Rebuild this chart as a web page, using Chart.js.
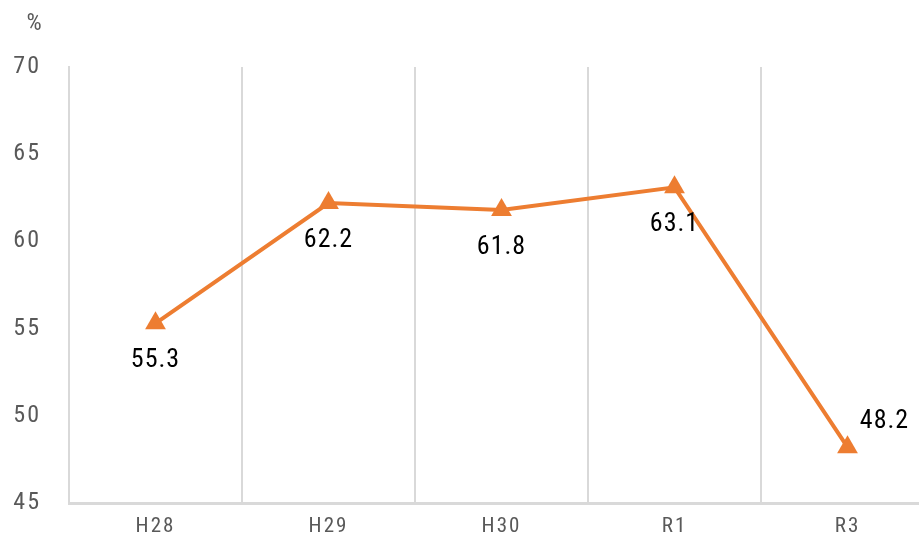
<!DOCTYPE html>
<html>
<head>
<meta charset="utf-8">
<script src="https://cdn.jsdelivr.net/npm/chart.js@4.4.0/dist/chart.umd.min.js"></script>
<style>
  html, body { margin: 0; padding: 0; background: #fff; overflow: hidden; }
  #myChart { display: block; }
</style>
</head>
<body>
<canvas id="myChart" width="946" height="550" style="width:946px;height:550px"></canvas>
<script>
const labels = ['H28', 'H29', 'H30', 'R1', 'R3'];
const values = [55.3, 62.2, 61.8, 63.1, 48.2];
const unitLabel = '%';
// where each value label sits relative to its marker
const labelSide = ['below', 'below', 'below', 'below', 'right'];

const fontFamily = "'Roboto Condensed', 'Open Sans', sans-serif";
const orange = '#ED7D31';
const gridColor = '#d9d9d9';

// letter spacing for all text on the canvas
const spacing = {
  id: 'spacing',
  beforeDraw(chart) { chart.ctx.letterSpacing = '2px'; },
  afterDraw(chart) { chart.ctx.letterSpacing = '0px'; }
};

// draws value labels + the % unit at top left
const valueLabels = {
  id: 'valueLabels',
  afterDatasetsDraw(chart) {
    const ctx = chart.ctx;
    const meta = chart.getDatasetMeta(0);
    ctx.save();
    ctx.font = '26px ' + fontFamily;
    ctx.fillStyle = '#000';
    ctx.textBaseline = 'middle';
    ctx.textAlign = 'center';
    ctx.letterSpacing = '1px';
    meta.data.forEach((pt, i) => {
      const txt = values[i].toFixed(1);
      if (labelSide[i] === 'right') {
        ctx.fillText(txt, pt.x + 37, pt.y - 26);
      } else {
        ctx.fillText(txt, pt.x, pt.y + 37);
      }
    });
    ctx.fillStyle = '#595959';
    ctx.font = '24px ' + fontFamily;
    ctx.letterSpacing = '0px';
    ctx.fillText(unitLabel, 34, 24);
    ctx.restore();
  }
};

const config = {
  type: 'line',
  data: {
    labels: labels,
    datasets: [{
      data: values,
      borderColor: orange,
      backgroundColor: orange,
      borderWidth: 4,
      pointStyle: 'triangle',
      pointRadius: 12,
      pointHoverRadius: 12,
      pointBorderWidth: 0,
      tension: 0
    }]
  },
  options: {
    responsive: false,
    animation: false,
    layout: { padding: { top: 67, left: 0, right: 0, bottom: 0 } },
    plugins: { legend: { display: false }, tooltip: { enabled: false } },
    scales: {
      x: {
        offset: true,
        grid: { display: true, offset: true, color: gridColor, lineWidth: 2, drawTicks: false },
        border: { display: true, color: gridColor, width: 3 },
        ticks: { color: '#595959', font: { family: fontFamily, size: 21 }, padding: 11 },
        afterFit(scale) { scale.height = 47; }
      },
      y: {
        min: 45,
        max: 70,
        ticks: { stepSize: 5, color: '#595959', font: { family: fontFamily, size: 24 }, padding: 28 },
        grid: { display: false, drawTicks: false },
        border: { display: true, color: gridColor, width: 2 },
        afterFit(scale) { scale.width = 69; }
      }
    }
  },
  plugins: [spacing, valueLabels]
};

const myChart = new Chart(document.getElementById('myChart'), config);
</script>
</body>
</html>
